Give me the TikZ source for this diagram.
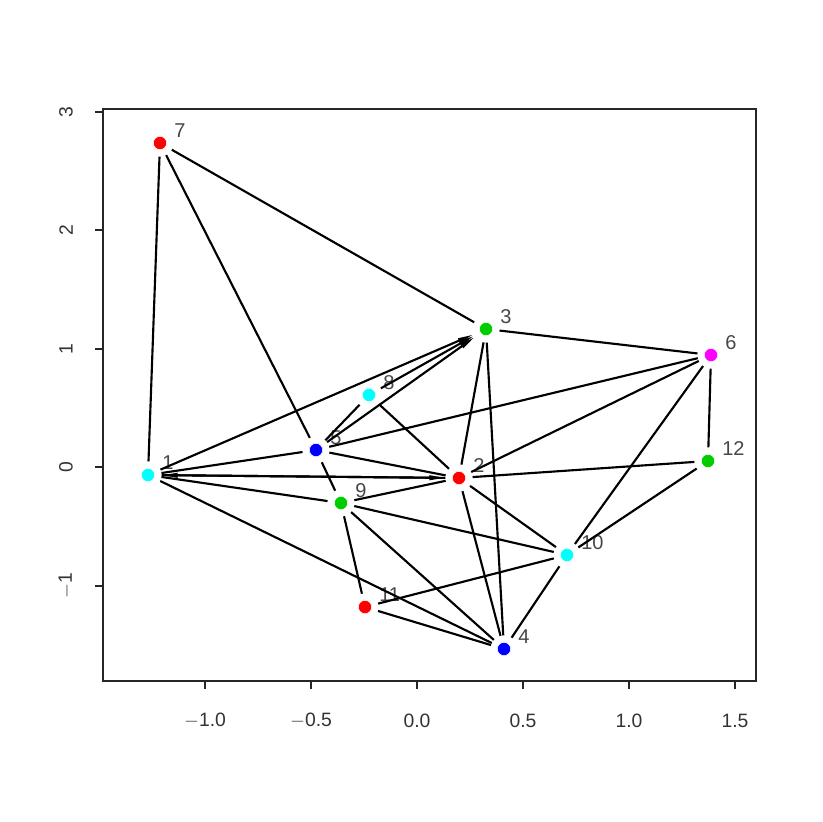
\documentclass[tikz,border=0pt]{standalone}
\usepackage{fontspec}
\setmainfont{Liberation Sans}
\usetikzlibrary{arrows.meta}
\begin{document}
\begin{tikzpicture}[x=0.75pt,y=-0.75pt,
  dot/.style={circle,inner sep=0pt,minimum size=10pt,draw=white,line width=0.4pt},
  lbl/.style={anchor=west,inner sep=0pt,text=black!72,font=\fontsize{15}{15}\selectfont},
  tick/.style={inner sep=0pt,text=black!80,font=\fontsize{14.5}{14.5}\selectfont},
  edge/.style={line width=1.6pt,shorten >=5pt,shorten <=5pt},
  tip/.style={-{Triangle[length=12pt,width=3.4pt]}},
  axis/.style={line width=0.85pt,black!85}]
\useasboundingbox (0,0) rectangle (822,822);
\fill[white] (0,0) rectangle (822,822);
\definecolor{gthree}{RGB}{0,205,0}
\definecolor{cyanR}{RGB}{0,255,255}
\definecolor{magR}{RGB}{255,0,255}
\definecolor{redR}{RGB}{255,0,0}
\definecolor{blueR}{RGB}{0,0,255}
% frame and axes
\draw[axis] (103,109) rectangle (756,681);
\draw[axis] (205,681) -- (735,681);
\foreach \x/\t in {205/$-$1.0,311/$-$0.5,417/0.0,523/0.5,629/1.0,735/1.5}{
  \draw[axis] (\x,681) -- (\x,689);
  \node[tick] at (\x,721) {\t};
}
\draw[axis] (103,112) -- (103,586);
\foreach \y/\t in {112/3,230/2,349/1,467/0,586/$-$1}{
  \draw[axis] (103,\y) -- (95,\y);
  \node[tick,rotate=90] at (66,\y) {\t};
}
% nodes
\foreach \n/\x/\y/\c in {1/148/475/cyanR,2/459/478/redR,3/486/329/gthree,4/504/649/blueR,
  5/316/450/blueR,6/711/355/magR,7/160/143/redR,8/369/395/cyanR,9/341/503/gthree,
  10/567/555/cyanR,11/365/607/redR,12/708/461/gthree}{
  \node[dot,fill=\c] (n\n) at (\x,\y) {};
  \node[lbl] (l\n) at (\x+14,\y-12) {\n};
}
% edges
\foreach \a/\b in {1/7,1/9,1/4,7/5,7/3,3/6,3/2,3/4,6/5,6/2,6/10,6/12,12/2,12/10,
  2/5,2/8,2/9,2/10,2/4,9/5,9/10,9/11,9/4,10/4,10/11,11/4,5/8,5/1}{
  \draw[edge] (n\a) -- (n\b);
}
\draw[edge,tip] (n1) -- (n3);
\draw[edge,tip] (n5) -- (n3);
\draw[edge,tip] (n8) -- (n3);
\draw[edge,tip] (n1) -- (n2);
\draw[edge,tip] (n2) -- (n1);
\end{tikzpicture}
\end{document}
